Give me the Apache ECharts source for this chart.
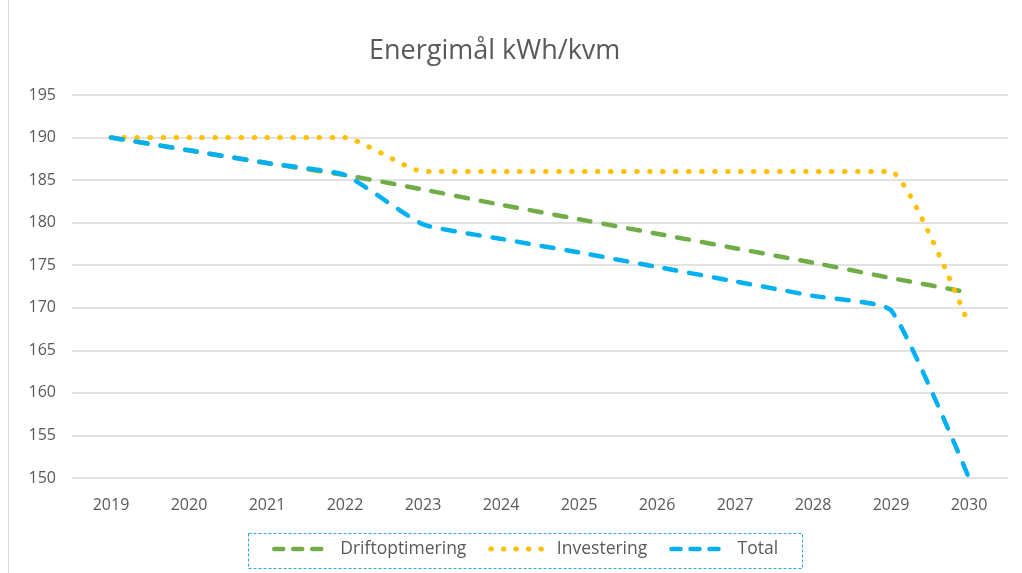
<!DOCTYPE html>
<html><head><meta charset="utf-8">
<script src="https://cdn.jsdelivr.net/npm/echarts@6/dist/echarts.min.js"></script>
<style>html,body{margin:0;padding:0;background:#fff}#c{width:1022px;height:573px}#frame{position:absolute;left:8px;top:-2px;width:1100px;height:700px;border:1px solid #d9d9d9;pointer-events:none}</style>
</head><body>
<div id="c"></div><div id="frame"></div>
<script>
const years = ['2019','2020','2021','2022','2023','2024','2025','2026','2027','2028','2029','2030'];
const driftoptimering = [190, 188.5, 187.0, 185.6, 183.9, 182.1, 180.4, 178.7, 177.0, 175.3, 173.5, 171.8];
const investering = [190, 190, 190, 190, 186, 186, 186, 186, 186, 186, 186, 168];
const total = [190, 188.5, 187.0, 185.6, 179.8, 178.1, 176.5, 174.8, 173.1, 171.4, 169.7, 150];
const titleText = 'Energimål kWh/kvm';
const font = 'Open Sans';
const dashPat = [12, 13];
const chart = echarts.init(document.getElementById('c'));
chart.setOption({
  animation: false,
  backgroundColor: '#fff',
  title: { text: titleText, left: 364, top: 33, textStyle: { fontFamily: font, fontSize: 27, fontWeight: 'normal', color: '#595959' } },
  grid: { left: 72, right: 14, top: 95, bottom: 95, containLabel: false },
  xAxis: {
    type: 'category', data: years, boundaryGap: true,
    axisLine: { show: false }, axisTick: { show: false },
    axisLabel: { color: '#595959', fontFamily: font, fontSize: 16, margin: 19 }
  },
  yAxis: {
    type: 'value', min: 150, max: 195, interval: 5,
    axisLine: { show: false }, axisTick: { show: false },
    axisLabel: { color: '#595959', fontFamily: font, fontSize: 16, margin: 16, align: 'right' },
    splitLine: { lineStyle: { color: '#d9d9d9', width: 1.5 } }
  },
  legend: {
    bottom: 10, left: 267, itemWidth: 52, itemHeight: 14, itemGap: 22,
    itemStyle: { opacity: 0 },
    textStyle: { color: '#595959', fontFamily: font, fontSize: 17.5, padding: [0, 0, 0, 9] },
    data: [
      { name: 'Driftoptimering', lineStyle: { width: 4.5, type: [9, 10], cap: 'round', color: '#70ad47' } },
      { name: 'Investering', lineStyle: { width: 5, type: [0.5, 12], cap: 'round', color: '#ffc000' } },
      { name: 'Total', lineStyle: { width: 4.5, type: [9, 10], cap: 'round', color: '#00b0f0' } }
    ]
  },
  graphic: [{ type: 'rect', left: 246, top: 531, shape: { width: 554, height: 35 }, style: { fill: 'none', stroke: '#2fa6d9', lineWidth: 1, lineDash: [3, 2] }, z: 10 }],
  series: [
    { name: 'Driftoptimering', type: 'line', data: driftoptimering, symbol: 'none', smooth: 0.15, color: '#70ad47', z: 2,
      lineStyle: { width: 4.5, type: dashPat, cap: 'round', color: '#70ad47' } },
    { name: 'Investering', type: 'line', data: investering, symbol: 'none', smooth: 0.15, color: '#ffc000', z: 3,
      lineStyle: { width: 5, type: [0.5, 12.5], cap: 'round', color: '#ffc000' } },
    { name: 'Total', type: 'line', data: total, symbol: 'none', smooth: 0.15, color: '#00b0f0', z: 4,
      lineStyle: { width: 4.5, type: dashPat, cap: 'round', color: '#00b0f0' } }
  ]
});
</script>
</body></html>
